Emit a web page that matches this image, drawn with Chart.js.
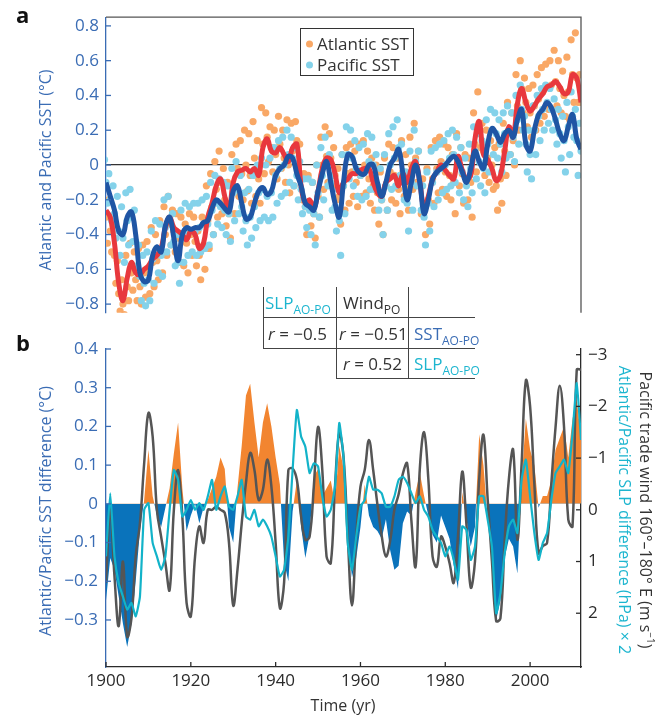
<!DOCTYPE html>
<html>
<head>
<meta charset="utf-8">
<title>Atlantic and Pacific SST</title>
<script src="https://cdn.jsdelivr.net/npm/chart.js@4.4.1/dist/chart.umd.min.js"></script>
<style>
  html, body { margin: 0; padding: 0; background: #fff; }
  #page { position: relative; width: 668px; height: 716px; overflow: hidden; font-family: "Open Sans", sans-serif; color: #333; }
  #page canvas { position: absolute; left: 0; }
  .txt { position: absolute; white-space: nowrap; line-height: 1; }
  .rot-l { transform: translate(-50%, -50%) rotate(-90deg); font-size: 16px; }
  .rot-r { transform: translate(-50%, -50%) rotate(90deg); font-size: 16px; }
  .panel { font-weight: bold; font-size: 22px; color: #111; }
  .hl { position: absolute; height: 0; border-top: 1.3px solid #444; }
  .vl { position: absolute; width: 0; border-left: 1.3px solid #444; }
  .cell { position: absolute; font-size: 17px; white-space: nowrap; line-height: 1; transform: translateY(-50%); }
  .cell sub { font-size: 12px; vertical-align: -5px; line-height: 0; }
  .cyan { color: #1cb5cf; }
  .blue { color: #3a6cb4; }
  #legend { position: absolute; left: 300px; top: 28px; width: 114px; height: 48px; border: 1.3px solid #333; box-sizing: border-box; }
  #legend .row { position: absolute; left: 5px; font-size: 17px; line-height: 1; white-space: nowrap; transform: translateY(-50%); }
  #legend .dot { display: inline-block; width: 7px; height: 7px; border-radius: 50%; margin-right: 4px; vertical-align: 2px; }
</style>
</head>
<body>
<div id="page">
  <canvas id="topChart" width="668" height="330" style="top:0"></canvas>
  <canvas id="bottomChart" width="668" height="386" style="top:330px"></canvas>

  <div class="txt panel" style="left:16px;top:3px">a</div>
  <div class="txt panel" style="left:16px;top:331px">b</div>

  <div class="txt rot-l blue" style="left:45px;top:170px">Atlantic and Pacific SST (°C)</div>
  <div class="txt rot-l blue" style="left:45px;top:511px">Atlantic/Pacific SST difference (°C)</div>
  <div class="txt rot-r" style="left:647px;top:510px;color:#333">Pacific trade wind 160°–180° E (m s<sup style="font-size:10px">−1</sup>)</div>
  <div class="txt rot-r cyan" style="left:625px;top:510px">Atlantic/Pacific SLP difference (hPa) × 2</div>
  <div class="txt" style="left:343px;top:705px;transform:translate(-50%,-50%);font-size:16px;color:#333">Time (yr)</div>

  <div id="legend">
    <div class="row" style="top:14px"><span class="dot" style="background:#f9a866"></span>Atlantic SST</div>
    <div class="row" style="top:35px"><span class="dot" style="background:#84d2ea"></span>Pacific SST</div>
  </div>

  <!-- correlation table -->
  <div class="vl" style="left:263px;top:287px;height:61px"></div>
  <div class="vl" style="left:336px;top:287px;height:91px"></div>
  <div class="vl" style="left:408px;top:287px;height:91px"></div>
  <div class="hl" style="left:263px;top:317px;width:212px"></div>
  <div class="hl" style="left:263px;top:348px;width:212px"></div>
  <div class="hl" style="left:336px;top:378px;width:139px"></div>
  <div class="cell cyan" style="left:265px;top:302px">SLP<sub>AO-PO</sub></div>
  <div class="cell" style="left:343px;top:302px">Wind<sub>PO</sub></div>
  <div class="cell" style="left:268px;top:333px"><i>r</i> = −0.5</div>
  <div class="cell" style="left:339px;top:333px"><i>r</i> = −0.51</div>
  <div class="cell blue" style="left:414px;top:333px">SST<sub>AO-PO</sub></div>
  <div class="cell" style="left:343px;top:363px"><i>r</i> = 0.52</div>
  <div class="cell cyan" style="left:414px;top:363px">SLP<sub>AO-PO</sub></div>
</div>

<script>
// yearly values, 1900 .. 2012
const firstYear = 1900;
const lastYear = 2012;

// smoothed SST anomalies (°C)
const atlanticSmooth = [
  -0.26, -0.30, -0.45, -0.68, -0.78, -0.65, -0.56, -0.62, -0.63, -0.60,
  -0.58, -0.54, -0.52, -0.48, -0.36, -0.30, -0.36, -0.38, -0.40, -0.43,
  -0.38, -0.40, -0.48, -0.45, -0.30, -0.22, -0.12, -0.08, -0.18, -0.26,
  -0.10, -0.04, -0.03, -0.02, -0.04, -0.02, -0.06, 0.10, 0.15, 0.08,
  0.07, 0.10, 0.06, 0.02, 0.10, 0.12, -0.12, -0.22, -0.20, -0.25,
  -0.15, -0.02, 0.04, 0.03, -0.05, -0.16, -0.10, -0.08, -0.05, -0.05,
  -0.03, -0.02, -0.02, -0.10, -0.16, -0.18, -0.10, -0.08, -0.06, -0.12,
  -0.05, -0.10, -0.02, 0.02, -0.10, -0.25, -0.18, -0.08, -0.04, 0.00,
  -0.03, -0.06, -0.08, 0.05, -0.03, -0.08, -0.06, 0.15, 0.25, 0.06,
  0.03, -0.02, -0.09, -0.06, 0.08, 0.22, 0.16, 0.35, 0.44, 0.36,
  0.31, 0.34, 0.38, 0.41, 0.45, 0.46, 0.48, 0.45, 0.41, 0.42,
  0.52, 0.50, 0.36
];
const pacificSmooth = [
  -0.10, -0.18, -0.26, -0.38, -0.40, -0.30, -0.27, -0.40, -0.62, -0.67,
  -0.66, -0.52, -0.47, -0.50, -0.35, -0.30, -0.42, -0.55, -0.40, -0.36,
  -0.37, -0.36, -0.36, -0.33, -0.32, -0.25, -0.20, -0.22, -0.25, -0.27,
  -0.15, -0.12, -0.22, -0.31, -0.30, -0.22, -0.15, -0.13, -0.17, -0.15,
  -0.06, -0.02, 0.00, 0.05, 0.04, -0.05, -0.12, -0.22, -0.24, -0.26,
  -0.15, -0.05, 0.02, -0.10, -0.22, -0.30, -0.10, 0.06, 0.05, -0.02,
  -0.05, -0.05, 0.00, 0.00, -0.10, -0.18, -0.10, 0.00, 0.04, 0.09,
  -0.05, -0.20, -0.10, 0.00, -0.10, -0.28, -0.20, -0.08, -0.04, -0.02,
  0.00, 0.03, 0.05, 0.02, -0.04, -0.10, -0.02, 0.08, 0.02, -0.02,
  0.12, 0.21, 0.18, 0.13, 0.18, 0.20, 0.16, 0.26, 0.32, 0.12,
  0.08, 0.20, 0.29, 0.32, 0.36, 0.33, 0.26, 0.18, 0.14, 0.22,
  0.29, 0.15, 0.09
];

// individual SST samples, three per year (°C)
const atlanticDots = [
  -0.12,-0.30,-0.45, -0.20,-0.38,-0.50, -0.35,-0.52,-0.68, -0.55,-0.74,-0.84, -0.66,-0.80,-0.86,
  -0.52,-0.70,-0.78, -0.45,-0.62,-0.72, -0.50,-0.66,-0.78, -0.48,-0.70,-0.80, -0.46,-0.62,-0.76,
  -0.44,-0.60,-0.74, -0.36,-0.56,-0.70, -0.40,-0.55,-0.66, -0.32,-0.50,-0.62, -0.24,-0.40,-0.52,
  -0.18,-0.34,-0.46, -0.26,-0.38,-0.50, -0.28,-0.42,-0.56, -0.30,-0.44,-0.58, -0.34,-0.45,-0.62,
  -0.28,-0.40,-0.52, -0.30,-0.44,-0.58, -0.38,-0.52,-0.66, -0.30,-0.46,-0.60, -0.12,-0.32,-0.48,
  -0.05,-0.24,-0.40, 0.02,-0.14,-0.30, 0.08,-0.10,-0.28, -0.02,-0.20,-0.35, -0.10,-0.28,-0.42,
  0.06,-0.12,-0.28, 0.12,-0.02,-0.18, 0.14,-0.05,-0.20, 0.20,0.00,-0.15, 0.18,-0.06,-0.22,
  0.25,0.04,-0.18, 0.14,-0.08,-0.22, 0.33,0.12,-0.05, 0.30,0.16,0.02, 0.22,0.10,-0.04,
  0.20,0.06,-0.08, 0.28,0.12,-0.02, 0.20,0.04,-0.10, 0.26,0.00,-0.16, 0.24,0.08,-0.12,
  0.25,0.14,-0.02, 0.12,-0.06,-0.20, -0.05,-0.24,-0.40, -0.06,-0.22,-0.35, -0.10,-0.28,-0.42,
  0.00,-0.18,-0.30, 0.16,0.00,-0.14, 0.22,0.05,-0.10, 0.18,0.04,-0.12, 0.10,-0.06,-0.20,
  -0.02,-0.18,-0.34, 0.06,-0.12,-0.26, 0.10,-0.05,-0.22, 0.12,-0.04,-0.18, 0.08,-0.10,-0.24,
  0.12,-0.06,-0.18, 0.14,0.00,-0.16, 0.08,-0.08,-0.22, 0.04,-0.12,-0.26, 0.00,-0.16,-0.34,
  -0.04,-0.20,-0.40, 0.04,-0.12,-0.26, 0.12,-0.04,-0.20, 0.10,-0.06,-0.22, 0.04,-0.14,-0.28,
  0.14,-0.04,-0.18, 0.06,-0.12,-0.26, 0.16,0.00,-0.14, 0.24,0.04,-0.10, 0.08,-0.12,-0.28,
  -0.08,-0.26,-0.40, -0.02,-0.20,-0.34, 0.10,-0.08,-0.22, 0.14,-0.02,-0.16, 0.16,0.02,-0.14,
  0.12,-0.04,-0.18, 0.10,-0.06,-0.20, 0.06,-0.10,-0.28, 0.18,0.04,-0.12, 0.10,-0.05,-0.22,
  0.06,-0.08,-0.20, 0.04,-0.10,-0.30, 0.30,0.12,-0.04, 0.42,0.24,0.10, 0.24,0.08,-0.06,
  0.20,0.04,-0.10, 0.14,0.00,-0.14, 0.10,-0.12,-0.26, 0.12,-0.08,-0.22, 0.24,0.08,-0.06,
  0.36,0.20,0.06, 0.30,0.14,0.00, 0.52,0.34,0.20, 0.60,0.44,0.30, 0.50,0.36,0.22,
  0.44,0.30,0.16, 0.46,0.34,0.20, 0.52,0.38,0.24, 0.56,0.42,0.28, 0.58,0.45,0.32,
  0.60,0.46,0.32, 0.66,0.48,0.34, 0.60,0.44,0.30, 0.54,0.40,0.28, 0.62,0.42,0.26,
  0.72,0.52,0.36, 0.76,0.50,0.36, 0.52,0.36,0.20
];
const pacificDots = [
  0.03,-0.10,-0.22, -0.05,-0.20,-0.32, -0.12,-0.28,-0.42, -0.18,-0.38,-0.52, -0.24,-0.42,-0.56,
  -0.16,-0.32,-0.46, -0.14,-0.30,-0.44, -0.26,-0.44,-0.58, -0.46,-0.64,-0.78, -0.52,-0.68,-0.81,
  -0.50,-0.66,-0.78, -0.38,-0.54,-0.68, -0.32,-0.48,-0.62, -0.34,-0.52,-0.64, -0.20,-0.36,-0.50,
  -0.18,-0.32,-0.46, -0.28,-0.44,-0.58, -0.40,-0.56,-0.68, -0.26,-0.42,-0.56, -0.22,-0.38,-0.52,
  -0.24,-0.38,-0.50, -0.22,-0.38,-0.52, -0.22,-0.36,-0.50, -0.20,-0.34,-0.48, -0.18,-0.34,-0.46,
  -0.10,-0.26,-0.40, -0.06,-0.22,-0.34, -0.08,-0.24,-0.36, -0.10,-0.26,-0.40, -0.12,-0.28,-0.44,
  -0.02,-0.16,-0.32, 0.02,-0.14,-0.28, -0.06,-0.24,-0.38, -0.16,-0.32,-0.46, -0.14,-0.30,-0.42,
  -0.06,-0.24,-0.36, 0.00,-0.16,-0.32, 0.04,-0.14,-0.30, 0.00,-0.18,-0.32, 0.04,-0.16,-0.30,
  0.10,-0.06,-0.22, 0.14,-0.02,-0.18, 0.16,0.00,-0.16, 0.20,0.06,-0.10, 0.16,0.04,-0.12,
  0.10,-0.06,-0.20, 0.02,-0.14,-0.28, -0.08,-0.24,-0.36, -0.08,-0.26,-0.40, -0.10,-0.28,-0.46,
  0.00,-0.16,-0.30, 0.10,-0.06,-0.20, 0.16,0.02,-0.12, 0.06,-0.10,-0.26, -0.06,-0.24,-0.38,
  -0.14,-0.32,-0.52, 0.06,-0.12,-0.28, 0.22,0.06,-0.08, 0.20,0.04,-0.12, 0.14,-0.02,-0.18,
  0.10,-0.06,-0.20, 0.12,-0.04,-0.18, 0.18,0.02,-0.14, 0.16,0.00,-0.14, 0.06,-0.12,-0.26,
  -0.02,-0.20,-0.40, 0.06,-0.12,-0.26, 0.18,0.00,-0.14, 0.22,0.04,-0.12, 0.26,0.10,-0.06,
  0.12,-0.06,-0.20, -0.04,-0.22,-0.38, 0.08,-0.10,-0.26, 0.20,0.02,-0.12, 0.08,-0.12,-0.26,
  -0.12,-0.30,-0.46, -0.04,-0.22,-0.38, 0.08,-0.10,-0.24, 0.10,-0.04,-0.20, 0.12,-0.02,-0.16,
  0.14,0.00,-0.14, 0.18,0.04,-0.12, 0.20,0.06,-0.10, 0.16,0.02,-0.16, 0.10,-0.04,-0.20,
  0.04,-0.12,-0.24, 0.12,-0.02,-0.16, 0.22,0.08,-0.08, 0.18,0.02,-0.12, 0.14,-0.02,-0.16,
  0.26,0.12,-0.04, 0.32,0.20,0.06, 0.30,0.18,0.04, 0.26,0.12,-0.04, 0.30,0.18,0.04,
  0.34,0.20,0.06, 0.30,0.16,0.02, 0.40,0.26,0.12, 0.46,0.32,0.20, 0.28,0.12,-0.04,
  0.20,0.06,-0.08, 0.34,0.20,0.06, 0.40,0.28,0.14, 0.44,0.32,0.20, 0.46,0.36,0.24,
  0.44,0.32,0.20, 0.38,0.26,0.12, 0.32,0.18,0.04, 0.28,0.14,-0.04, 0.36,0.22,0.06,
  0.42,0.28,0.16, 0.32,0.14,-0.06, 0.24,0.08,-0.08
];

// panel b: Atlantic minus Pacific SST (°C)
const sstDiff = [
  -0.25, -0.14, -0.17, -0.24, -0.31, -0.37, -0.31, -0.20, -0.07, 0.01,
  0.14, 0.02, -0.03, -0.06, -0.01, 0.04, 0.13, 0.21, 0.04, -0.07,
  -0.03, 0.00, -0.05, -0.01, 0.01, 0.04, 0.07, 0.12, 0.09, -0.06,
  -0.10, 0.04, 0.15, 0.28, 0.31, 0.21, 0.12, 0.21, 0.26, 0.20,
  0.12, 0.05, -0.15, -0.20, -0.02, 0.06, -0.06, -0.14, -0.08, 0.07,
  0.09, 0.02, 0.04, 0.06, 0.00, 0.15, 0.09, -0.08, -0.19, -0.14,
  -0.06, 0.05, -0.03, -0.06, -0.07, -0.09, -0.04, -0.12, -0.17, -0.16,
  -0.05, -0.02, -0.03, 0.03, 0.08, 0.02, -0.03, -0.08, -0.10, -0.03,
  -0.06, -0.09, -0.16, -0.22, 0.03, -0.04, -0.11, -0.06, 0.18, 0.10,
  -0.04, -0.13, -0.30, -0.25, -0.14, -0.09, -0.11, -0.18, 0.06, 0.22,
  0.14, 0.10, -0.01, 0.02, 0.02, 0.06, 0.14, 0.17, 0.20, 0.12,
  0.22, 0.27, 0.17
];
// Pacific trade wind 160°-180° E (m/s, axis reversed)
const tradeWind = [
  1.41, 0.00, 1.29, 2.25, 1.00, 2.45, 2.10, 0.90, 0.26, -0.90,
  -1.87, -1.42, 0.00, 0.52, 1.03, 1.55, 0.00, -0.77, 0.13, 1.80,
  2.06, 0.90, 0.32, 0.64, 0.00, 0.00, -0.06, 0.00, 0.06, 0.64,
  1.85, 1.16, 0.26, -0.52, -1.10, -0.77, -0.19, -0.39, -0.97, -0.45,
  0.64, 1.90, 1.40, -0.77, -0.80, -0.58, 0.13, 0.58, 0.52, -0.45,
  -1.60, -0.77, 0.90, 1.03, -0.45, -1.48, -1.03, 0.52, 1.85, 0.52,
  -0.45, -0.77, -1.35, -0.77, -0.10, 0.50, 0.90, 0.60, 0.00, -0.30,
  -0.70, -0.90, 0.20, 1.10, -0.80, -1.50, -0.60, 0.90, 1.10, 0.52,
  0.71, 1.03, 1.41, 0.50, -0.74, 0.30, 1.50, 1.00, -0.60, -1.45,
  -0.20, 1.00, 2.15, 2.10, 0.60, -0.60, -1.16, 0.58, -0.90, -2.50,
  -2.00, -0.50, 0.84, 0.70, 0.64, -0.50, -1.60, -2.40, -1.60, 0.19,
  0.32, -2.71, -2.71
];
// Atlantic minus Pacific SLP (hPa x 2, right axis)
const slpDiff = [
  0.90, -0.32, 0.90, 1.42, 1.68, 1.93, 1.80, 2.06, 1.68, 0.00,
  -0.13, 0.64, 0.90, 1.16, 0.90, 0.00, -0.77, -0.58, 0.13, 0.00,
  -0.19, 0.00, -0.13, 0.00, -0.26, -0.58, 0.00, -0.26, -0.45, -0.06,
  0.00, -0.26, -0.58, 0.13, 0.19, 0.00, 0.32, 0.19, 0.32, 0.52,
  0.90, 1.29, 1.16, 0.52, -0.77, -1.93, -1.42, -1.22, -0.71, -0.90,
  -0.84, -0.26, 0.13, 0.00, -0.45, -1.68, -1.03, 0.64, 1.16, 0.52,
  -0.06, -0.19, -0.64, -0.39, -0.39, -0.32, -0.06, -0.06, -0.26, -0.58,
  -0.64, -0.52, -0.32, -0.13, -0.26, 0.00, 0.13, 0.39, 0.52, 0.64,
  0.90, 0.71, 0.97, 1.35, 0.32, 0.39, 0.97, 0.71, -0.26, -0.26,
  0.19, 0.71, 2.00, 1.61, 0.84, 0.32, 0.19, 0.45, -0.58, -0.97,
  -0.26, 0.45, 0.97, 0.64, 0.45, -0.19, -0.71, -0.84, -0.97, -0.71,
  -1.48, -2.45, -1.35
];

// tick labels
const sstTicks = [0.8, 0.6, 0.4, 0.2, 0, -0.2, -0.4, -0.6, -0.8];
const diffTicks = [0.4, 0.3, 0.2, 0.1, 0, -0.1, -0.2, -0.3];
const windTicks = [-3, -2, -1, 0, 1, 2];
const yearTicks = [1900, 1920, 1940, 1960, 1980, 2000];

const BLUE_AXIS = '#3a6cb4';
const DARK = '#2b2b2b';
const FONT = { family: 'Open Sans', size: 17 };

const fmt = v => (v === 0 ? '0' : String(v)).replace('-', '\u2212');
const toXY = arr => arr.map((v, i) => ({ x: firstYear + i, y: v }));
const dotsXY = arr => arr.map((v, i) => ({ x: firstYear + Math.floor(i / 3) + (i % 3 - 1) * 0.33, y: v }));
const setTicks = list => s => { s.ticks = list.map(v => ({ value: v })); };

// tick marks pointing into the plot, plus the top/right frame of panel a
const innerTicks = {
  id: 'innerTicks',
  afterDraw(chart) {
    const ctx = chart.ctx, a = chart.chartArea;
    ctx.save();
    ctx.lineWidth = 1.3;
    Object.values(chart.scales).forEach(s => {
      if (!s.options.display) return;
      ctx.strokeStyle = s.options.border.color;
      s.ticks.forEach(t => {
        const p = s.getPixelForValue(t.value);
        ctx.beginPath();
        if (s.axis === 'x') { ctx.moveTo(p, a.bottom); ctx.lineTo(p, a.bottom - 5); }
        else if (s.position === 'left') { ctx.moveTo(a.left, p); ctx.lineTo(a.left + 5, p); }
        else { ctx.moveTo(a.right, p); ctx.lineTo(a.right - 5, p); }
        ctx.stroke();
      });
    });
    if (chart.canvas.id === 'topChart') {
      ctx.strokeStyle = '#555';
      ctx.beginPath();
      ctx.moveTo(a.left, a.top);
      ctx.lineTo(a.right, a.top);
      ctx.lineTo(a.right, a.bottom);
      ctx.stroke();
    }
    ctx.restore();
  }
};

// Panel a: SST samples and smoothed series
new Chart(document.getElementById('topChart'), {
  type: 'line',
  data: {
    datasets: [{
      label: 'Pacific SST smoothed',
      data: toXY(pacificSmooth),
      borderColor: '#1f55a4',
      borderWidth: 5,
      pointRadius: 0,
      tension: 0.4,
      order: 0
    }, {
      label: 'Atlantic SST smoothed',
      data: toXY(atlanticSmooth),
      borderColor: '#e8383d',
      borderWidth: 5,
      pointRadius: 0,
      tension: 0.4,
      order: 1
    }, {
      label: 'Pacific SST',
      data: dotsXY(pacificDots),
      showLine: false,
      pointRadius: 3.6,
      pointBorderWidth: 0,
      pointBackgroundColor: '#84d2ea',
      order: 2
    }, {
      label: 'Atlantic SST',
      data: dotsXY(atlanticDots),
      showLine: false,
      pointRadius: 3.6,
      pointBorderWidth: 0,
      pointBackgroundColor: '#f9a866',
      order: 3
    }]
  },
  options: {
    responsive: false,
    animation: false,
    devicePixelRatio: 1,
    layout: { padding: { top: 11, right: 87, bottom: 8, left: 0 } },
    plugins: { legend: { display: false }, tooltip: { enabled: false } },
    scales: {
      x: { type: 'linear', min: firstYear, max: lastYear, display: false },
      y: {
        min: -0.85,
        max: 0.85,
        afterFit: s => { s.width = 106; },
        afterBuildTicks: setTicks(sstTicks),
        border: { display: true, color: BLUE_AXIS, width: 1.3 },
        grid: {
          drawTicks: false,
          lineWidth: 1.3,
          color: c => (c.tick && c.tick.value === 0 ? '#333' : 'rgba(0,0,0,0)')
        },
        ticks: { color: BLUE_AXIS, font: FONT, padding: 7, callback: v => fmt(v) }
      }
    }
  },
  plugins: [innerTicks]
});

// Panel b: SST difference, trade wind and SLP difference
new Chart(document.getElementById('bottomChart'), {
  type: 'line',
  data: {
    datasets: [{
      label: 'Atlantic/Pacific SST difference',
      data: toXY(sstDiff),
      yAxisID: 'y',
      borderWidth: 0,
      pointRadius: 0,
      tension: 0,
      fill: { target: 'origin', above: '#f28530', below: '#0a73bb' },
      order: 3
    }, {
      label: 'Pacific trade wind',
      data: toXY(tradeWind),
      yAxisID: 'w',
      borderColor: '#555555',
      borderWidth: 2.5,
      pointRadius: 0,
      tension: 0.4,
      fill: false,
      order: 2
    }, {
      label: 'Atlantic/Pacific SLP difference',
      data: toXY(slpDiff),
      yAxisID: 'w',
      borderColor: '#12b3c9',
      borderWidth: 2.2,
      pointRadius: 0,
      tension: 0.15,
      fill: false,
      order: 1
    }]
  },
  options: {
    responsive: false,
    animation: false,
    devicePixelRatio: 1,
    layout: { padding: { top: 19, right: 0, bottom: 0, left: 0 } },
    plugins: { legend: { display: false }, tooltip: { enabled: false } },
    scales: {
      x: {
        type: 'linear',
        min: firstYear,
        max: lastYear,
        afterFit: s => { s.height = 49; },
        afterBuildTicks: setTicks(yearTicks),
        border: { display: true, color: DARK, width: 1.3 },
        grid: { display: false, drawTicks: false },
        ticks: { color: DARK, font: FONT, padding: 4, maxRotation: 0, callback: v => String(v) }
      },
      y: {
        position: 'left',
        min: -0.4215,
        max: 0.4,
        afterFit: s => { s.width = 106; },
        afterBuildTicks: setTicks(diffTicks),
        border: { display: true, color: BLUE_AXIS, width: 1.3 },
        grid: { display: false, drawTicks: false },
        ticks: { color: BLUE_AXIS, font: FONT, padding: 8, callback: v => fmt(v) }
      },
      w: {
        position: 'right',
        reverse: true,
        min: -3.11,
        max: 3.04,
        afterFit: s => { s.width = 87; },
        afterBuildTicks: setTicks(windTicks),
        border: { display: true, color: DARK, width: 1.3 },
        grid: { display: false, drawTicks: false },
        ticks: { color: DARK, font: FONT, padding: 7, callback: v => fmt(v) }
      }
    }
  },
  plugins: [innerTicks]
});
</script>
</body>
</html>
